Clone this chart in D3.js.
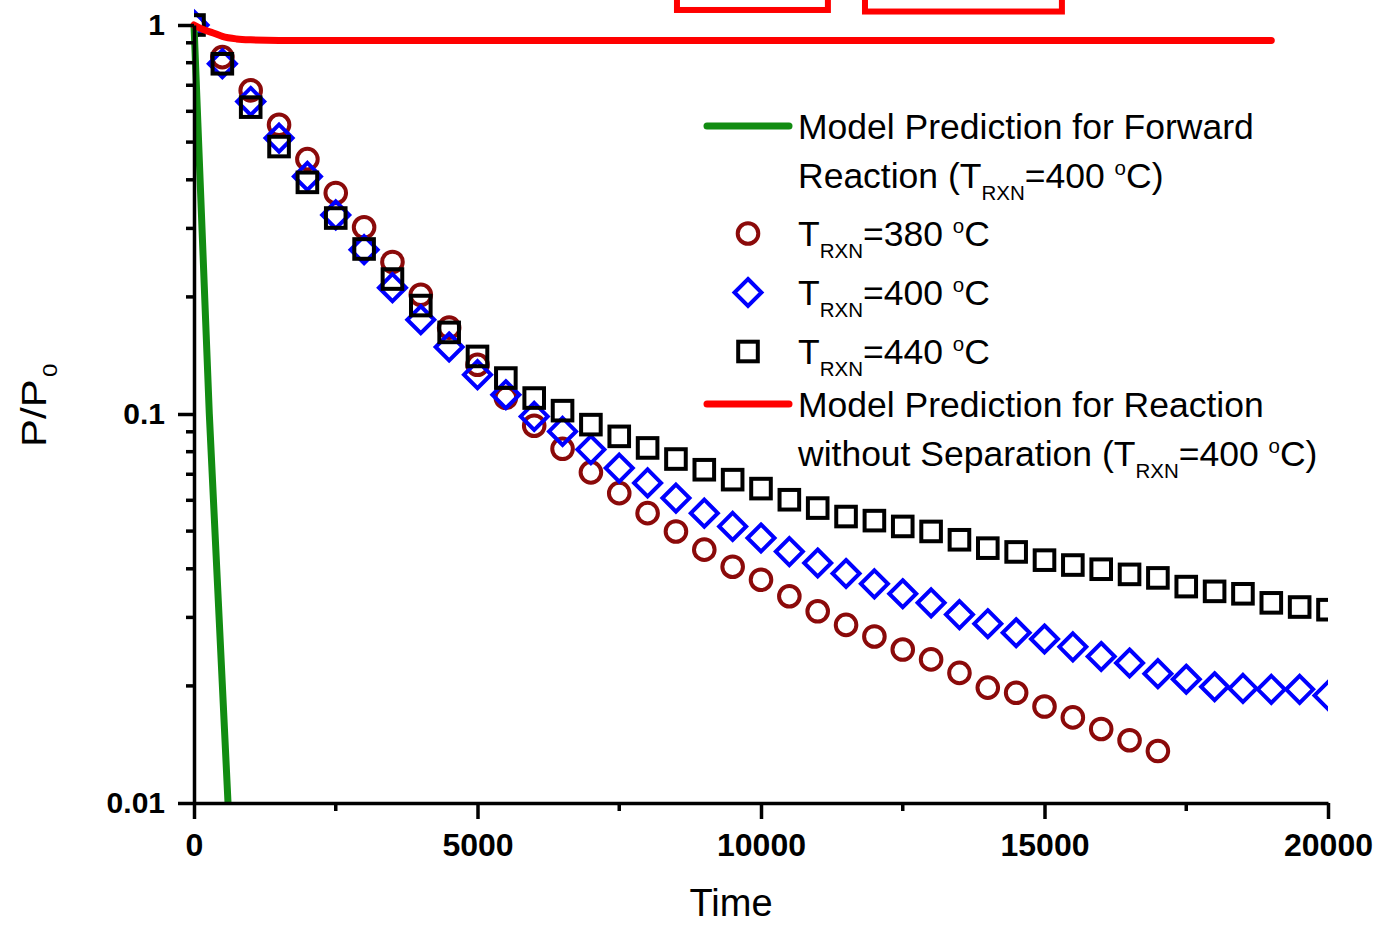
<!DOCTYPE html>
<html><head><meta charset="utf-8">
<script src="https://cdn.jsdelivr.net/npm/d3@7"></script>
<style>
html,body{margin:0;padding:0;background:#fff;}
svg{display:block;font-family:"Liberation Sans",Arial,Helvetica,sans-serif;}
text{white-space:pre;}
</style></head><body>
<svg id="chart" width="1378" height="926"></svg>
<script>
// ---------------- data ----------------
const times = [0,500,1000,1500,2000,2500,3000,3500,4000,4500,5000,5500,6000,6500,7000,7500,8000,8500,9000,9500,10000,
  10500,11000,11500,12000,12500,13000,13500,14000,14500,15000,15500,16000,16500,17000,17500,18000,18500,19000,19500,20000];
const p380 = [1,0.827,0.679,0.554,0.452,0.370,0.302,0.246,0.2025,0.1667,0.1338,0.1101,0.0933,0.0814,0.0708,0.0626,0.0556,0.0499,
  0.0448,0.0405,0.0375,0.0340,0.0311,0.0287,0.0268,0.0248,0.0234,0.0216,0.0198,0.0192,0.0177,0.0166,0.0155,0.0145,0.0136];
const p400 = [1,0.795,0.636,0.512,0.408,0.325,0.2645,0.2112,0.1747,0.1487,0.1262,0.1121,0.0986,0.0902,0.0810,0.0726,0.0665,0.0608,
  0.0556,0.0514,0.0480,0.0443,0.0414,0.0389,0.0366,0.0345,0.0327,0.0305,0.0289,0.0274,0.0264,0.0252,0.0238,0.0229,0.0215,0.0208,
  0.0199,0.0197,0.0196,0.0196,0.0189];
const p440 = [1,0.795,0.615,0.487,0.394,0.319,0.2656,0.2223,0.190,0.1621,0.1406,0.1237,0.1099,0.1020,0.0939,0.0876,0.0818,0.0766,
  0.0719,0.0678,0.0643,0.0602,0.0573,0.0545,0.0532,0.0514,0.0499,0.0475,0.0452,0.0442,0.0421,0.0409,0.0399,0.0387,0.0379,0.0360,
  0.0350,0.0345,0.0327,0.0319,0.0314];
const forwardModelT = [0,270,600];
const forwardModelP = [1,0.1,0.01];
const noSepModelT = [0,150,340,500,750,1000,1500,19000];
const noSepModelP = [1,0.975,0.954,0.935,0.921,0.916,0.913,0.912];

const xTicks = [0,5000,10000,15000,20000];
const xTickLabels = ["0","5000","10000","15000","20000"];
const xMinorTicks = [2500,7500,12500,17500];
const yTicks = [0.01,0.1,1];
const yTickLabels = ["0.01","0.1","1"];
const yMinorTicks = [0.02,0.03,0.04,0.05,0.06,0.07,0.08,0.09,0.2,0.3,0.4,0.5,0.6,0.7,0.8,0.9];

const xTitle = "Time";
const yTitleMain = "P/P";
const yTitleSub = "0";

// legend rows: parts with optional sub/sup
const legendForward = [[{t:"Model Prediction for Forward"}],
  [{t:"Reaction (T"},{t:"RXN",s:"sub"},{t:"=400 "},{t:"o",s:"sup"},{t:"C)"}]];
const legend380 = [{t:"T"},{t:"RXN",s:"sub"},{t:"=380 "},{t:"o",s:"sup"},{t:"C"}];
const legend400 = [{t:"T"},{t:"RXN",s:"sub"},{t:"=400 "},{t:"o",s:"sup"},{t:"C"}];
const legend440 = [{t:"T"},{t:"RXN",s:"sub"},{t:"=440 "},{t:"o",s:"sup"},{t:"C"}];
const legendNoSep = [[{t:"Model Prediction for Reaction"}],
  [{t:"without Separation (T"},{t:"RXN",s:"sub"},{t:"=400 "},{t:"o",s:"sup"},{t:"C)"}]];

// cropped annotation boxes at the top (data units: time start, time end, P bottom)
const annotationBoxes = [[8518,11180,1.093],[11834,15307,1.083]];

// ---------------- drawing ----------------
const svg = d3.select("#chart");
const FONT = '"Liberation Sans",Arial,Helvetica,sans-serif';
const C380 = "#8b0a0a", C400 = "#0000ff", C440 = "#000000", CGREEN = "#128c12", CRED = "#ff0000";

const x = d3.scaleLinear().domain([0,20000]).range([194,1328]);
const y = d3.scaleLog().domain([0.01,1]).range([803,25]);

svg.append("rect").attr("width",1378).attr("height",926).attr("fill","#fff");

// annotation boxes
svg.append("g").selectAll("rect").data(annotationBoxes).join("rect")
  .attr("x",d=>x(d[0])).attr("width",d=>x(d[1])-x(d[0]))
  .attr("y",-20).attr("height",d=>y(d[2])+20)
  .attr("fill","none").attr("stroke",CRED).attr("stroke-width",6);

svg.append("clipPath").attr("id","plotclip").append("rect")
  .attr("x",194).attr("y",0).attr("width",1328-194).attr("height",803);

const markers = svg.append("g").attr("clip-path","url(#plotclip)");

function circleShape(g){ g.append("circle").attr("r",10.3)
  .attr("fill","none").attr("stroke",C380).attr("stroke-width",4); }
function diamondShape(g){ g.append("path").attr("d","M0,-13.5L13.5,0L0,13.5L-13.5,0Z")
  .attr("fill","none").attr("stroke",C400).attr("stroke-width",4).attr("stroke-linejoin","miter"); }
function squareShape(g){ g.append("rect").attr("x",-9.8).attr("y",-9.8).attr("width",19.6).attr("height",19.6)
  .attr("fill","none").attr("stroke",C440).attr("stroke-width",4); }

function series(vals, shape){
  const g = markers.append("g");
  vals.forEach((v,i)=>{
    const m = g.append("g").attr("transform",`translate(${x(times[i])},${y(v)})`);
    shape(m);
  });
}
series(p380, circleShape);
series(p400, diamondShape);
series(p440, squareShape);

// model lines
const lineGen = d3.line().x(d=>x(d[0])).y(d=>y(d[1]));
const linesG = svg.append("g");
linesG.append("path").datum(forwardModelT.map((t,i)=>[t,forwardModelP[i]]))
  .attr("d",lineGen).attr("fill","none").attr("stroke",CGREEN).attr("stroke-width",7);
linesG.append("path").datum(noSepModelT.map((t,i)=>[t,noSepModelP[i]]))
  .attr("d",lineGen.curve(d3.curveMonotoneX)).attr("fill","none").attr("stroke",CRED)
  .attr("stroke-width",7).attr("stroke-linecap","round");

// axes
const xAxisG = svg.append("g").attr("transform","translate(0,803)")
  .call(d3.axisBottom(x).tickValues(xTicks).tickSize(16).tickSizeOuter(0).tickPadding(14)
    .tickFormat((d,i)=>xTickLabels[i]));
xAxisG.attr("font-family",FONT);
xAxisG.select(".domain").attr("stroke","#000").attr("stroke-width",3.5);
xAxisG.selectAll(".tick line").attr("stroke","#000").attr("stroke-width",3.5);
xAxisG.selectAll(".tick text").attr("font-size",32).attr("font-weight","bold").attr("fill","#000");
xAxisG.selectAll(".minor").data(xMinorTicks).join("line").attr("class","minor")
  .attr("x1",d=>x(d)).attr("x2",d=>x(d)).attr("y1",0).attr("y2",8)
  .attr("stroke","#000").attr("stroke-width",3.5);

const yAxisG = svg.append("g").attr("transform","translate(194,0)")
  .call(d3.axisLeft(y).tickValues(yTicks).tickSize(16).tickSizeOuter(0).tickPadding(13)
    .tickFormat((d,i)=>yTickLabels[i]));
yAxisG.attr("font-family",FONT);
yAxisG.select(".domain").attr("stroke","#000").attr("stroke-width",3.5);
yAxisG.selectAll(".tick line").attr("stroke","#000").attr("stroke-width",3.5);
yAxisG.selectAll(".tick text").attr("font-size",30).attr("font-weight","bold").attr("fill","#000");
yAxisG.selectAll(".minor").data(yMinorTicks).join("line").attr("class","minor")
  .attr("x1",-8).attr("x2",0).attr("y1",d=>y(d)).attr("y2",d=>y(d))
  .attr("stroke","#000").attr("stroke-width",3.5);

// axis titles
svg.append("text").attr("transform","translate(731,916)")
  .attr("text-anchor","middle").attr("font-size",38).attr("font-family",FONT).attr("fill","#000").text(xTitle);
const yt = svg.append("text").attr("transform","translate(46,447) rotate(-90) scale(1.2,1)")
  .attr("font-size",35).attr("font-family",FONT).attr("fill","#000");
yt.append("tspan").text(yTitleMain);
yt.append("tspan").attr("font-size",20).attr("dy",11).attr("dx",2).text(yTitleSub);

// legend
const lg = svg.append("g");
function richText(xp, yp, parts){
  const t = lg.append("text").attr("transform",`translate(${xp},${yp})`)
    .attr("font-size",35.5).attr("font-family",FONT).attr("fill","#000");
  let shift = 0;
  parts.forEach(p=>{
    const ts = t.append("tspan").text(p.t);
    let target = 0;
    if(p.s==="sub"){ target = 12; ts.attr("font-size",20.5); }
    else if(p.s==="sup"){ target = -13; ts.attr("font-size",20.5); }
    if(target!==shift){ ts.attr("dy",target-shift); shift = target; }
  });
}
const LX = 798, MX = 748;
lg.append("line").attr("x1",707).attr("x2",789).attr("y1",126).attr("y2",126)
  .attr("stroke",CGREEN).attr("stroke-width",7).attr("stroke-linecap","round");
richText(LX,139,legendForward[0]);
richText(LX,187.5,legendForward[1]);
circleShape(lg.append("g").attr("transform",`translate(${MX},233.5)`));
richText(LX,246,legend380);
diamondShape(lg.append("g").attr("transform",`translate(${MX},292.5)`));
richText(LX,305,legend400);
squareShape(lg.append("g").attr("transform",`translate(${MX},351.5)`));
richText(LX,363.5,legend440);
lg.append("line").attr("x1",707).attr("x2",789).attr("y1",404).attr("y2",404)
  .attr("stroke",CRED).attr("stroke-width",7).attr("stroke-linecap","round");
richText(LX,417,legendNoSep[0]);
richText(LX,466,legendNoSep[1]);
</script>
</body></html>
